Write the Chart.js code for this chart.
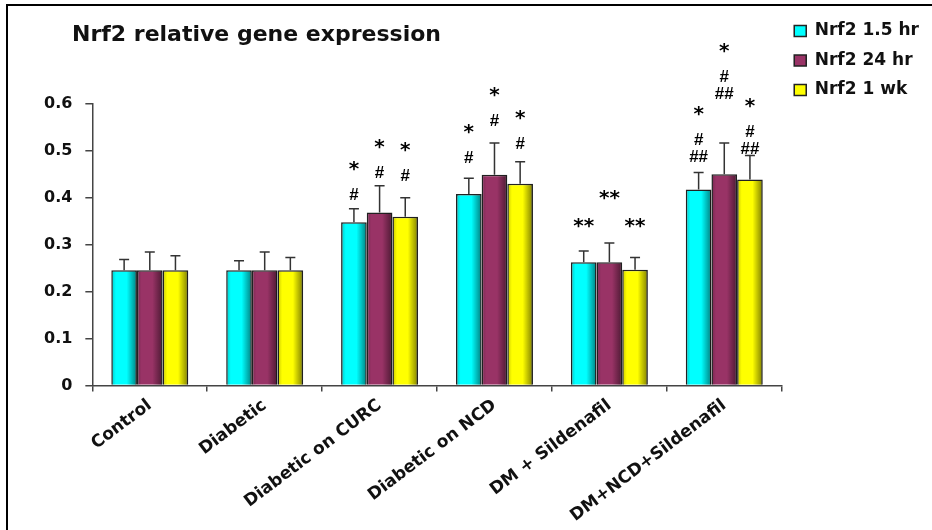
<!DOCTYPE html>
<html lang="en">
  <head>
    <meta charset="UTF-8" />
    <title>Nrf2 relative gene expression</title>
    <script src="https://cdn.jsdelivr.net/npm/chart.js"></script>
    <style>
      body {
        margin: 0;
        background: #fff;
      }
      .wrap {
        position: relative;
        width: 932px;
        height: 530px;
      }
      /* black frame on the top and left, the picture is cut on the other sides */
      .frame {
        position: absolute;
        left: 6px;
        top: 4px;
        right: 0;
        bottom: 0;
        border-left: 2.5px solid #000;
        border-top: 2.5px solid #000;
      }
      canvas {
        position: absolute;
        left: 0;
        top: 0;
      }
    </style>
  </head>
  <body>
    <div class="wrap">
      <div class="frame"></div>
      <canvas id="nrf2Chart" width="932" height="530"></canvas>
    </div>

    <script>
      // groups on the x axis
      var categories = [
        "Control",
        "Diabetic",
        "Diabetic on CURC",
        "Diabetic on NCD",
        "DM + Sildenafil",
        "DM+NCD+Sildenafil",
      ];
      var seriesNames = ["Nrf2 1.5 hr", "Nrf2 24 hr", "Nrf2 1 wk"];

      // mean values
      var hr15 = [0.245, 0.245, 0.347, 0.407, 0.262, 0.417];
      var hr24 = [0.245, 0.245, 0.368, 0.448, 0.262, 0.449];
      var wk1 = [0.245, 0.245, 0.359, 0.429, 0.246, 0.438];

      // upper error bar sizes
      var hr15Err = [0.023, 0.02, 0.029, 0.034, 0.024, 0.036];
      var hr24Err = [0.039, 0.039, 0.057, 0.068, 0.041, 0.067];
      var wk1Err = [0.031, 0.027, 0.04, 0.047, 0.026, 0.051];

      // significance marks, top line first
      var hr15Marks = ["", "", "*\n#", "*\n#", "**", "*\n#\n##"];
      var hr24Marks = ["", "", "*\n#", "*\n#", "**", "*\n#\n##"];
      var wk1Marks = ["", "", "*\n#", "*\n#", "**", "*\n#\n##"];

      // value where the lowest mark line sits
      var hr15MarkAt = [0, 0, 0.408, 0.485, 0.346, 0.489];
      var hr24MarkAt = [0, 0, 0.453, 0.564, 0.406, 0.622];
      var wk1MarkAt = [0, 0, 0.447, 0.515, 0.346, 0.506];

      var yTicks = [0, 0.1, 0.2, 0.3, 0.4, 0.5, 0.6];

      var seriesColors = ["#00FFFF", "#993366", "#FFFF00"];
      var errors = [hr15Err, hr24Err, wk1Err];
      var marks = [hr15Marks, hr24Marks, wk1Marks];
      var markAt = [hr15MarkAt, hr24MarkAt, wk1MarkAt];

      // shading, error bars and the * / # marks
      var extrasPlugin = {
        id: "extras",
        afterLayout: function (chart) {
          // title starts where the y tick labels end, not at the canvas edge
          chart.titleBlock.left = 72;
        },
        afterDatasetsDraw: function (chart) {
          var ctx = chart.ctx;
          var yScale = chart.scales.y;
          chart.data.datasets.forEach(function (ds, i) {
            var meta = chart.getDatasetMeta(i);
            meta.data.forEach(function (bar, j) {
              var left = bar.x - bar.width / 2;
              var top = Math.min(bar.y, bar.base);
              var h = Math.abs(bar.base - bar.y);

              // 3d-ish shading over the flat fill
              var g = ctx.createLinearGradient(left, 0, left + bar.width, 0);
              g.addColorStop(0, "rgba(0,0,0,0.22)");
              g.addColorStop(0.18, "rgba(0,0,0,0)");
              g.addColorStop(0.6, "rgba(0,0,0,0)");
              g.addColorStop(1, "rgba(0,0,0,0.5)");
              ctx.save();
              ctx.fillStyle = g;
              ctx.fillRect(left + 1, top + 1, bar.width - 2, h - 1);
              ctx.restore();

              // error bar
              var v = ds.data[j];
              var yTop = yScale.getPixelForValue(v + errors[i][j]);
              ctx.save();
              ctx.strokeStyle = "#333";
              ctx.lineWidth = 1.5;
              ctx.beginPath();
              ctx.moveTo(bar.x, bar.y);
              ctx.lineTo(bar.x, yTop);
              ctx.moveTo(bar.x - 5, yTop);
              ctx.lineTo(bar.x + 5, yTop);
              ctx.stroke();
              ctx.restore();

              // marks
              if (!marks[i][j]) return;
              var lines = marks[i][j].split("\n").reverse();
              var yc = yScale.getPixelForValue(markAt[i][j]);
              ctx.save();
              ctx.fillStyle = "#000";
              ctx.textAlign = "center";
              ctx.textBaseline = "alphabetic";
              lines.forEach(function (line, k) {
                var star = line.indexOf("*") >= 0;
                if (k > 0) yc -= star ? 28 : 17;
                ctx.font = star
                  ? "bold 20px 'DejaVu Sans'"
                  : "bold 17px 'Liberation Sans'";
                var m = ctx.measureText(line);
                var base =
                  yc +
                  (m.actualBoundingBoxAscent - m.actualBoundingBoxDescent) / 2;
                ctx.fillText(line, bar.x, base);
              });
              ctx.restore();
            });
          });
        },
      };

      var ctx = document.getElementById("nrf2Chart").getContext("2d");
      var nrf2Chart = new Chart(ctx, {
        type: "bar",
        data: {
          labels: categories,
          datasets: [hr15, hr24, wk1].map(function (vals, i) {
            return {
              label: seriesNames[i],
              data: vals,
              backgroundColor: seriesColors[i],
              borderColor: "#222",
              borderWidth: 1.5,
              categoryPercentage: 0.67,
              barPercentage: 1.0,
            };
          }),
        },
        options: {
          responsive: false,
          animation: false,
          devicePixelRatio: 1,
          layout: {
            padding: { left: 31, top: 10, right: 3, bottom: 0 },
          },
          plugins: {
            title: {
              display: true,
              text: "Nrf2 relative gene expression",
              align: "start",
              color: "#111",
              font: { family: "'DejaVu Sans'", size: 22, weight: "bold" },
              padding: { top: 12, bottom: 55 },
            },
            legend: {
              position: "right",
              align: "start",
              labels: {
                boxWidth: 12,
                boxHeight: 11,
                padding: 12.5,
                color: "#111",
                font: { family: "'DejaVu Sans'", size: 17, weight: "bold" },
              },
            },
            tooltip: { enabled: false },
          },
          scales: {
            x: {
              grid: {
                drawOnChartArea: false,
                offset: true,
                tickLength: 6,
                color: "#444",
                lineWidth: 1.5,
              },
              border: { color: "#444", width: 1.5 },
              ticks: {
                autoSkip: false,
                minRotation: 37,
                maxRotation: 37,
                padding: 4,
                color: "#111",
                font: { family: "'DejaVu Sans'", size: 17, weight: "bold" },
              },
            },
            y: {
              min: 0,
              max: 0.6,
              afterBuildTicks: function (scale) {
                scale.ticks = yTicks.map(function (v) {
                  return { value: v };
                });
              },
              grid: {
                drawOnChartArea: false,
                tickLength: 7,
                color: "#444",
                lineWidth: 1.5,
              },
              border: { color: "#444", width: 1.5 },
              ticks: {
                padding: 13,
                color: "#111",
                font: { family: "'DejaVu Sans'", size: 16, weight: "bold" },
              },
            },
          },
        },
        plugins: [extrasPlugin],
      });
    </script>
  </body>
</html>
